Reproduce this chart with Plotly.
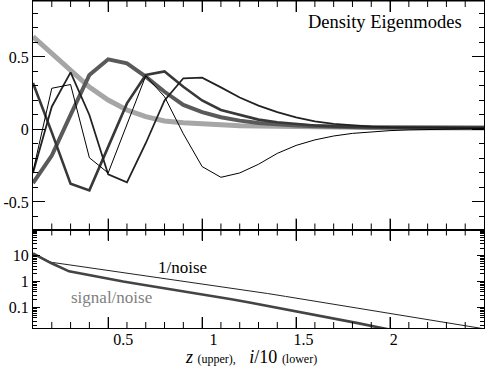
import plotly.graph_objects as go

# upper panel: density eigenmodes vs z
z_vals = [0.1, 0.2, 0.3, 0.4, 0.5, 0.6, 0.7, 0.8, 0.9, 1.0, 1.1, 1.2, 1.3,
          1.4, 1.5, 1.6, 1.7, 1.8, 1.9, 2.0, 2.1, 2.2, 2.3, 2.4, 2.5]

mode1 = [0.64, 0.525, 0.415, 0.292, 0.203, 0.134, 0.088, 0.059, 0.047, 0.038,
         0.031, 0.026, 0.024, 0.021, 0.019, 0.017, 0.015, 0.014, 0.013, 0.012,
         0.011, 0.011, 0.010, 0.010, 0.010]
mode2 = [-0.37, -0.18, 0.10, 0.376, 0.484, 0.456, 0.364, 0.26, 0.169, 0.119,
         0.084, 0.061, 0.045, 0.034, 0.027, 0.022, 0.018, 0.016, 0.014, 0.013,
         0.012, 0.012, 0.011, 0.011, 0.011]
mode3 = [0.32, -0.02, -0.375, -0.42, -0.12, 0.18, 0.376, 0.40, 0.295, 0.20,
         0.134, 0.10, 0.068, 0.05, 0.036, 0.027, 0.021, 0.017, 0.015, 0.013,
         0.012, 0.012, 0.011, 0.011, 0.011]
mode4 = [-0.30, 0.157, 0.394, 0.10, -0.31, -0.365, -0.095, 0.20, 0.353, 0.357,
         0.29, 0.22, 0.165, 0.12, 0.084, 0.056, 0.038, 0.027, 0.020, 0.016,
         0.014, 0.013, 0.012, 0.012, 0.012]
mode5 = [-0.29, 0.284, 0.31, -0.195, -0.30, 0.03, 0.37, 0.226, -0.03, -0.256,
         -0.33, -0.30, -0.24, -0.165, -0.11, -0.072, -0.045, -0.027, -0.016,
         -0.008, -0.003, 0.0, 0.003, 0.005, 0.006]

# lower panel: noise curves vs i/10
i_vals = [0.0, 0.1, 0.2, 0.3, 0.4, 0.5, 0.6, 0.7, 0.8, 0.9, 1.0, 1.1, 1.2,
          1.3, 1.4, 1.5, 1.6, 1.7, 1.8, 1.9, 2.0, 2.1, 2.2, 2.3, 2.4, 2.5]
inv_noise = [12.3, 5.62, 4.48, 3.56, 2.84, 2.26, 1.80, 1.43, 1.14, 0.908,
             0.723, 0.575, 0.452, 0.349, 0.27, 0.208, 0.161, 0.124, 0.0962,
             0.0741, 0.0569, 0.0437, 0.0335, 0.0257, 0.0197, 0.0151]
sig_noise = [12.3, 5.25, 2.51, 1.82, 1.32, 1.01, 0.776, 0.603, 0.468, 0.359,
             0.275, 0.209, 0.158, 0.117, 0.087, 0.063, 0.047, 0.034, 0.025,
             0.018, 0.013, 0.0095, 0.007, 0.005, 0.0037, 0.0027]

# z tick marks (shared by both panels) and the i/10 labels
z_major_ticks = [0.5, 1.0, 1.5, 2.0]
z_minor_ticks = [0.2, 0.3, 0.4, 0.6, 0.7, 0.8, 0.9, 1.1, 1.2, 1.3, 1.4, 1.6,
                 1.7, 1.8, 1.9, 2.1, 2.2, 2.3, 2.4]
lower_ticks = [0.5, 1, 1.5, 2]
lower_ticktext = ["0.5", "1", "1.5", "2"]

FONT = "Liberation Serif, Times New Roman, DejaVu Serif, serif"

fig = go.Figure()

# light modes drawn first so darker ones sit on top
styles = [(mode1, "#a6a6a6", 5), (mode2, "#5a5a5a", 4), (mode3, "#383838", 2.6),
          (mode4, "#222222", 1.8), (mode5, "#000000", 1)]
for ys, col, w in styles:
    fig.add_trace(go.Scatter(x=z_vals, y=ys, mode="lines",
                             line=dict(color=col, width=w),
                             xaxis="x", yaxis="y", showlegend=False))

fig.add_trace(go.Scatter(x=i_vals, y=inv_noise, mode="lines",
                         line=dict(color="#222222", width=1),
                         xaxis="x3", yaxis="y2", showlegend=False))
fig.add_trace(go.Scatter(x=i_vals, y=sig_noise, mode="lines",
                         line=dict(color="#444444", width=2.6),
                         xaxis="x3", yaxis="y2", showlegend=False))

split = 0.3012
tick_common = dict(showline=True, linecolor="black", linewidth=1, mirror="ticks",
                   ticks="inside", tickcolor="black", tickwidth=1, showgrid=False,
                   zeroline=False, automargin=False)


def z_axis(anchor):
    return dict(anchor=anchor, domain=[0, 1], range=[0.1, 2.5],
                tickmode="array", tickvals=z_major_ticks, ticklen=11,
                showticklabels=False, **tick_common)


fig.update_layout(
    template="none",
    width=485, height=378,
    margin=dict(l=33, r=1, t=1, b=50, pad=0),
    paper_bgcolor="white", plot_bgcolor="white",
    font=dict(family=FONT, size=16, color="black"),
    xaxis=z_axis("y"),
    yaxis=dict(anchor="x", domain=[split, 1], range=[-0.69, 0.886],
               tickmode="array", tickvals=[-0.5, 0, 0.5],
               ticktext=["-0.5", "0", "0.5"], ticklen=12,
               minor=dict(tickmode="linear", tick0=0, dtick=0.1, ticklen=5,
                          ticks="inside", tickcolor="black"),
               tickfont=dict(family=FONT, size=16), **tick_common),
    xaxis2=z_axis("y2"),
    xaxis3=dict(overlaying="x2", anchor="y2", range=[0, 2.5], side="bottom",
                tickmode="array", tickvals=lower_ticks, ticktext=lower_ticktext,
                ticks="", showline=False, showgrid=False, zeroline=False,
                automargin=False, tickfont=dict(family=FONT, size=16)),
    yaxis2=dict(anchor="x2", domain=[0, split], type="log", range=[-1.79, 2.016],
                tickmode="array", tickvals=[0.1, 1, 10], ticktext=["0.1", "1", "10"],
                ticklen=7,
                minor=dict(dtick="D1", ticklen=4, ticks="inside", tickcolor="black"),
                tickfont=dict(family=FONT, size=16), **tick_common),
)

# tick marks along the top and bottom of each panel, placed on the z axes
panels = [("x", "y domain", 228.5), ("x2", "y2 domain", 98.5)]
tick_line = dict(color="black", width=1)
for xref, yref, h_px in panels:
    for vals, length in ((z_major_ticks, 11), (z_minor_ticks, 6)):
        frac = length / h_px
        for v in vals:
            fig.add_shape(type="line", xref=xref, yref=yref, x0=v, x1=v,
                          y0=0, y1=frac, line=tick_line)
            fig.add_shape(type="line", xref=xref, yref=yref, x0=v, x1=v,
                          y0=1, y1=1 - frac, line=tick_line)
# frame line along the very top
fig.add_shape(type="line", xref="x domain", yref="y domain", x0=0, x1=1,
              y0=1, y1=1, line=tick_line)

fig.add_annotation(text="Density Eigenmodes", xref="paper", yref="paper",
                   x=0.9557, y=0.9358, xanchor="right", yanchor="middle",
                   showarrow=False, font=dict(family=FONT, size=18.5, color="black"))
fig.add_annotation(text="1/noise", xref="x3", yref="y2", x=0.826, y=0.531,
                   showarrow=False, font=dict(family=FONT, size=17, color="black"))
fig.add_annotation(text="signal/noise", xref="x3", yref="y2", x=0.436, y=-0.593,
                   showarrow=False, font=dict(family=FONT, size=17, color="#808080"))
fig.add_annotation(
    text="<i>z</i> <span style='font-size:12px'>(upper),</span>\u00a0\u00a0\u00a0"
         "<i>i</i>/10 <span style='font-size:12px'>(lower)</span>",
    xref="paper", yref="paper", x=0.483, y=-0.0887, xanchor="center",
    yanchor="middle", showarrow=False, font=dict(family=FONT, size=18, color="black"))

# page body has a default 8px margin; remove it so the figure sits at the origin
fig.write_html("out.html", config={"displayModeBar": False},
               post_script="document.body.style.margin='0';"
                           "document.body.style.overflow='hidden';")
